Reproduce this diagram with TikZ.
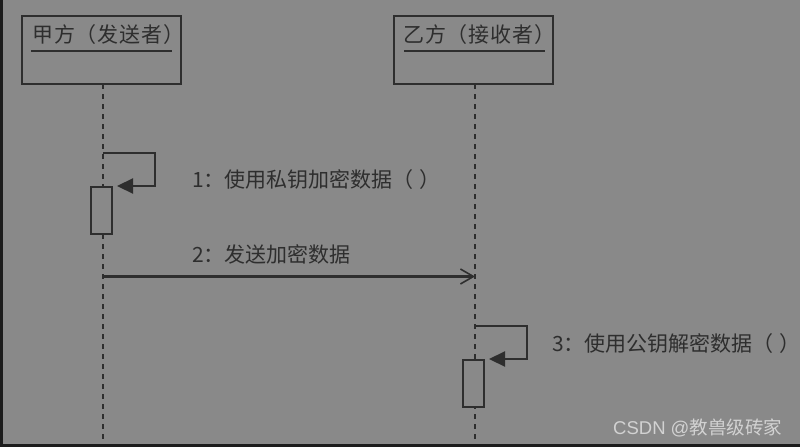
\documentclass[tikz,border=0pt]{standalone}
\usepackage{fontspec}
\setmainfont{Noto Sans CJK SC}
\newfontfamily\wmfont{Liberation Sans}
\newfontfamily\wmcjk{Noto Sans CJK SC}
\newfontfamily\titlefont[LetterSpace=4]{Noto Sans CJK SC}
\usetikzlibrary{arrows.meta}
\definecolor{bg}{HTML}{898989}
\definecolor{ink}{HTML}{2E2E2E}
\definecolor{edge}{HTML}{1C1C1C}
\definecolor{wm}{HTML}{D2D2D2}
\newcommand{\parpair}{（\hspace{6pt}）\kern-11pt}
\tikzset{
  objbox/.style={draw=ink, line width=2pt, fill=bg, minimum width=159pt, minimum height=68pt, inner sep=0pt},
  titletext/.style={text=ink, font=\titlefont\fontsize{21}{21}\selectfont, inner sep=0pt, anchor=west},
  uline/.style={draw=ink, line width=2.8pt},
  lifeline/.style={draw=ink, line width=2pt, dash pattern=on 5pt off 5pt},
  actbox/.style={draw=ink, line width=2pt, fill=bg, minimum width=21pt, minimum height=47pt, inner sep=0pt},
  selfmsg/.style={draw=ink, line width=2.2pt, -{Triangle[length=16pt,width=15pt]}},
  asyncmsg/.style={draw=ink, line width=2.2pt, -{Straight Barb[length=13pt,width=15pt,line width=1.6pt]}},
  msglabel/.style={text=ink, font=\fontsize{21}{21}\selectfont, inner sep=0pt, anchor=west},
}
\begin{document}
\begin{tikzpicture}[x=1pt,y=-1pt]
\useasboundingbox (0,0) rectangle (800,447);
\fill[bg] (0,0) rectangle (800,447);
\fill[edge] (0,0) rectangle (2.5,447);
\fill[edge] (0,443.5) rectangle (800,447);
% objects
\node[objbox] (A) at (101.5,50) {};
\node[objbox] (B) at (473.5,50) {};
\node[titletext] (At) at (32,35) {甲方（发送者）};
\node[titletext] (Bt) at (403,35) {乙方（接收者）};
\coordinate (Aul1) at (31,51);
\coordinate (Aul2) at (172,51);
\coordinate (Bul1) at (404,51);
\coordinate (Bul2) at (545,51);
\draw[uline] (Aul1) -- (Aul2);
\draw[uline] (Bul1) -- (Bul2);
% lifelines
\coordinate (Atop) at (103,84);
\coordinate (Aend) at (103,443);
\coordinate (Btop) at (475,84);
\coordinate (Bend) at (475,443);
\draw[lifeline] (Atop) -- (Aend);
\draw[lifeline] (Btop) -- (Bend);
% activations
\node[actbox] (act1) at (101.5,210.5) {};
\node[actbox] (act3) at (473.5,383.5) {};
% message 1
\coordinate (m1s) at (103,153);
\draw[selfmsg] (m1s) -- ++(52,0) |- ([xshift=4pt]act1.north east);
\node[msglabel] (l1) at (192,180) {1：使用私钥加密数据\parpair};
% message 2
\coordinate (m2s) at (103,276.5);
\coordinate (m2e) at (475,276.5);
\draw[asyncmsg] (m2s) -- (m2e);
\node[msglabel] (l2) at (192,254) {2：发送加密数据};
% message 3
\coordinate (m3s) at (475,326);
\draw[selfmsg] (m3s) -- ++(52,0) |- ([xshift=4pt]act3.north east);
\node[msglabel] (l3) at (552,344) {3：使用公钥解密数据\parpair};
% watermark
\node[text=wm, inner sep=0pt, anchor=west] (wmk) at (613,428) {\wmfont\fontsize{18.5}{18.5}\selectfont CSDN @\wmcjk 教兽级砖家};
\end{tikzpicture}
\end{document}
